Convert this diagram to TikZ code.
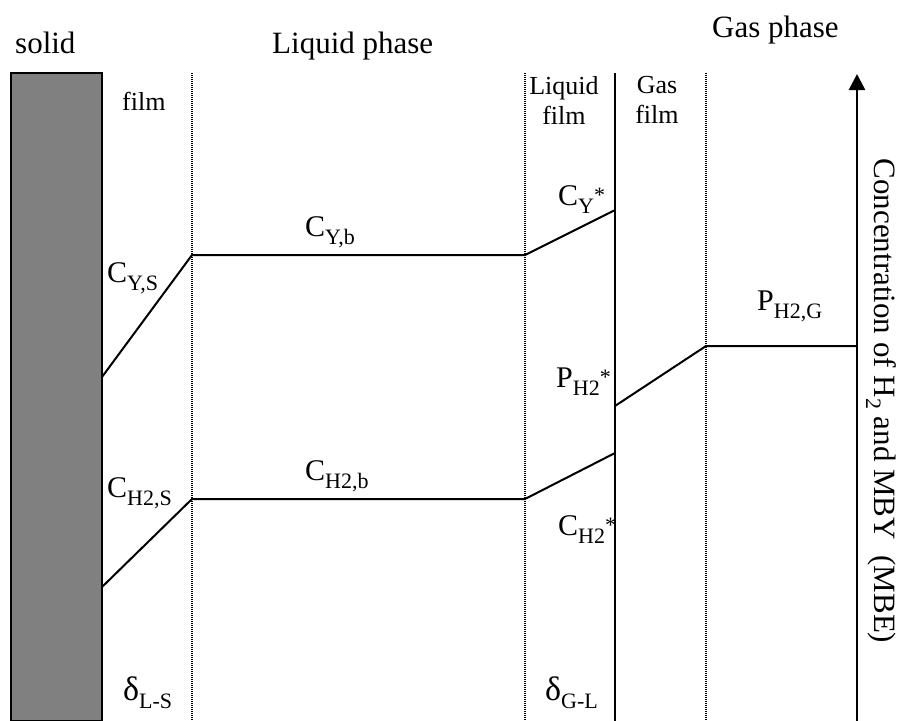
\documentclass[tikz,border=0pt]{standalone}
\usepackage{fontspec}
\setmainfont{Liberation Serif}
\usetikzlibrary{arrows.meta}
\newcommand\lo[1]{\raisebox{-8pt}{\fontsize{22}{22}\selectfont #1}}
\newcommand\hi{\raisebox{3pt}{\fontsize{22}{22}\selectfont *}}
\newcommand\dlt{{\fontsize{34}{34}\selectfont δ}}

\begin{document}
\begin{tikzpicture}[x=1pt,y=-1pt,
    every node/.style={inner sep=0pt},
    big/.style={font=\fontsize{31}{34}\selectfont},
    lbl/.style={anchor=base west,font=\fontsize{30}{32}\selectfont},
    small/.style={font=\fontsize{26}{30}\selectfont,align=center},
    film/.style={dash pattern=on 1pt off 1pt,line width=1.2pt},
    prof/.style={line width=2pt,line join=miter},
  ]
  \useasboundingbox (0,0) rectangle (898,721);

  % solid wall and phase boundaries
  \draw[fill=black!50,line width=1.5pt] (11,73) rectangle (102,721);
  \draw[film] (192,73) -- (192,721);
  \draw[film] (525,73) -- (525,721);
  \draw[film] (706,73) -- (706,721);
  \draw[line width=2.5pt] (615,73) -- (615,721);

  % concentration axis
  \coordinate (ax0) at (857,721);
  \coordinate (ax1) at (857,74);
  \draw[line width=2.5pt,-{Triangle[width=16pt,length=16pt]}] (ax0) -- (ax1);

  % corner points of the profiles
  \coordinate (ys) at (102,377);
  \coordinate (y1) at (192,255);
  \coordinate (y2) at (525,255);
  \coordinate (yi) at (615,210);
  \coordinate (hs) at (102,587);
  \coordinate (h1) at (192,499);
  \coordinate (h2) at (525,499);
  \coordinate (hi) at (615,453);
  \coordinate (pi) at (615,406);
  \coordinate (p1) at (706,346);
  \coordinate (pg) at (857,346);

  \draw[prof] (ys) -- (y1) -- (y2) -- (yi);
  \draw[prof] (hs) -- (h1) -- (h2) -- (hi);
  \draw[prof] (pi) -- (p1) -- (pg);

  % headings
  \node[big,anchor=base west] (tsolid) at (15,53) {solid};
  \node[big,anchor=base west] (tliq) at (272,53) {Liquid phase};
  \node[big,anchor=base west] (tgas) at (712,37) {Gas phase};
  \node[small,anchor=base west] (tfilm) at (122,110) {film};
  \node[small] (tlfilm) at (564,100) {Liquid\\film};
  \node[small] (tgfilm) at (657,100) {Gas\\film};

  % profile labels
  \node[lbl] (cys) at (107,282) {C\lo{Y,S}};
  \node[lbl] (cyb) at (305,236) {C\lo{Y,b}};
  \node[lbl] (cyi) at (558,205) {C\lo{Y}\hi};
  \node[lbl] (chs) at (107,497) {C\lo{H2,S}};
  \node[lbl] (chb) at (305,480) {C\lo{H2,b}};
  \node[lbl] (chi) at (558,535) {C\lo{H2}\hi};
  \node[lbl] (ppi) at (556,387) {P\lo{H2}\hi};
  \node[lbl] (ppg) at (757,310) {P\lo{H2,G}};
  \node[lbl] (dls) at (123,700) {\dlt\lo{L-S}};
  \node[lbl] (dgl) at (545,700) {\dlt\lo{G-L}};

  \node[big,rotate=-90] (taxis) at (881,401) {Concentration of H\lo{2} and MBY\ \ (MBE)};
\end{tikzpicture}
\end{document}
